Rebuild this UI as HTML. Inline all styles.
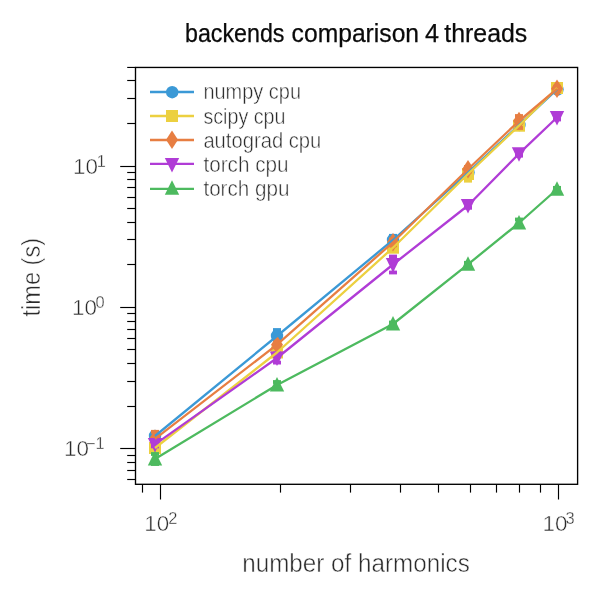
<!DOCTYPE html>
<html><head><meta charset="utf-8"><title>backends comparison 4 threads</title>
<style>html,body{margin:0;padding:0;background:#fff;}body{width:600px;height:600px;overflow:hidden;}svg{display:block;will-change:transform;}text{font-family:"Liberation Sans",sans-serif;}</style></head><body>
<svg width="600" height="600" viewBox="0 0 600 600">
<g>
<line x1="155" y1="433" x2="155" y2="439" stroke="#3b99d6" stroke-width="2.3"/>
<rect x="151.0" y="431.10" width="8" height="3.8" fill="#3b99d6"/>
<rect x="151.0" y="437.10" width="8" height="3.8" fill="#3b99d6"/>
<circle cx="155" cy="436" r="6.2" fill="#3b99d6"/>
<line x1="277" y1="330" x2="277" y2="342" stroke="#3b99d6" stroke-width="2.3"/>
<rect x="273.0" y="328.10" width="8" height="3.8" fill="#3b99d6"/>
<rect x="273.0" y="340.10" width="8" height="3.8" fill="#3b99d6"/>
<circle cx="277" cy="336" r="6.2" fill="#3b99d6"/>
<line x1="393" y1="235.8" x2="393" y2="244.2" stroke="#3b99d6" stroke-width="2.3"/>
<rect x="389.0" y="233.90" width="8" height="3.8" fill="#3b99d6"/>
<rect x="389.0" y="242.30" width="8" height="3.8" fill="#3b99d6"/>
<circle cx="393" cy="240" r="6.2" fill="#3b99d6"/>
<line x1="468" y1="170.5" x2="468" y2="174.5" stroke="#3b99d6" stroke-width="2.3"/>
<rect x="464.0" y="168.60" width="8" height="3.8" fill="#3b99d6"/>
<rect x="464.0" y="172.60" width="8" height="3.8" fill="#3b99d6"/>
<circle cx="468.5" cy="172.5" r="6.2" fill="#3b99d6"/>
<line x1="519" y1="123" x2="519" y2="127" stroke="#3b99d6" stroke-width="2.3"/>
<rect x="515.0" y="121.10" width="8" height="3.8" fill="#3b99d6"/>
<rect x="515.0" y="125.10" width="8" height="3.8" fill="#3b99d6"/>
<circle cx="519.5" cy="125" r="6.2" fill="#3b99d6"/>
<line x1="557" y1="87.5" x2="557" y2="91.5" stroke="#3b99d6" stroke-width="2.3"/>
<rect x="553.0" y="85.60" width="8" height="3.8" fill="#3b99d6"/>
<rect x="553.0" y="89.60" width="8" height="3.8" fill="#3b99d6"/>
<circle cx="557.5" cy="89.5" r="6.2" fill="#3b99d6"/>
<line x1="155" y1="445" x2="155" y2="451" stroke="#ecd040" stroke-width="2.3"/>
<rect x="151.0" y="443.10" width="8" height="3.8" fill="#ecd040"/>
<rect x="151.0" y="449.10" width="8" height="3.8" fill="#ecd040"/>
<rect x="149" y="442" width="12" height="12" fill="#ecd040"/>
<line x1="277" y1="349.5" x2="277" y2="355.5" stroke="#ecd040" stroke-width="2.3"/>
<rect x="273.0" y="347.60" width="8" height="3.8" fill="#ecd040"/>
<rect x="273.0" y="353.60" width="8" height="3.8" fill="#ecd040"/>
<rect x="271" y="346.5" width="12" height="12" fill="#ecd040"/>
<line x1="393" y1="244.7" x2="393" y2="250.7" stroke="#ecd040" stroke-width="2.3"/>
<rect x="389.0" y="242.80" width="8" height="3.8" fill="#ecd040"/>
<rect x="389.0" y="248.80" width="8" height="3.8" fill="#ecd040"/>
<rect x="387" y="241.7" width="12" height="12" fill="#ecd040"/>
<line x1="468" y1="167.3" x2="468" y2="180.7" stroke="#ecd040" stroke-width="2.3"/>
<rect x="464.0" y="165.40" width="8" height="3.8" fill="#ecd040"/>
<rect x="464.0" y="178.80" width="8" height="3.8" fill="#ecd040"/>
<rect x="462" y="168" width="12" height="12" fill="#ecd040"/>
<line x1="519" y1="122.7" x2="519" y2="128.7" stroke="#ecd040" stroke-width="2.3"/>
<rect x="515.0" y="120.80" width="8" height="3.8" fill="#ecd040"/>
<rect x="515.0" y="126.80" width="8" height="3.8" fill="#ecd040"/>
<rect x="513" y="119.7" width="12" height="12" fill="#ecd040"/>
<line x1="557" y1="86" x2="557" y2="90" stroke="#ecd040" stroke-width="2.3"/>
<rect x="553.0" y="84.10" width="8" height="3.8" fill="#ecd040"/>
<rect x="553.0" y="88.10" width="8" height="3.8" fill="#ecd040"/>
<rect x="551" y="82" width="12" height="12" fill="#ecd040"/>
<line x1="155" y1="431.8" x2="155" y2="445.8" stroke="#e77e42" stroke-width="2.3"/>
<rect x="151.0" y="429.90" width="8" height="3.8" fill="#e77e42"/>
<rect x="151.0" y="443.90" width="8" height="3.8" fill="#e77e42"/>
<polygon points="155,429.5 161,438.8 155,448.1 149,438.8" fill="#e77e42"/>
<line x1="277" y1="342.2" x2="277" y2="347.2" stroke="#e77e42" stroke-width="2.3"/>
<rect x="273.0" y="340.30" width="8" height="3.8" fill="#e77e42"/>
<rect x="273.0" y="345.30" width="8" height="3.8" fill="#e77e42"/>
<polygon points="277,335.4 283,344.7 277,354.0 271,344.7" fill="#e77e42"/>
<line x1="393" y1="239.3" x2="393" y2="245.3" stroke="#e77e42" stroke-width="2.3"/>
<rect x="389.0" y="237.40" width="8" height="3.8" fill="#e77e42"/>
<rect x="389.0" y="243.40" width="8" height="3.8" fill="#e77e42"/>
<polygon points="393,233.0 399,242.3 393,251.60000000000002 387,242.3" fill="#e77e42"/>
<line x1="468" y1="167.0" x2="468" y2="171.60000000000002" stroke="#e77e42" stroke-width="2.3"/>
<rect x="464.0" y="165.10" width="8" height="3.8" fill="#e77e42"/>
<rect x="464.0" y="169.70" width="8" height="3.8" fill="#e77e42"/>
<polygon points="468,160.0 474,169.3 468,178.60000000000002 462,169.3" fill="#e77e42"/>
<line x1="519" y1="116" x2="519" y2="128" stroke="#e77e42" stroke-width="2.3"/>
<rect x="515.0" y="114.10" width="8" height="3.8" fill="#e77e42"/>
<rect x="515.0" y="126.10" width="8" height="3.8" fill="#e77e42"/>
<polygon points="519,111.7 525,121 519,130.3 513,121" fill="#e77e42"/>
<line x1="557" y1="86.8" x2="557" y2="90.8" stroke="#e77e42" stroke-width="2.3"/>
<rect x="553.0" y="84.90" width="8" height="3.8" fill="#e77e42"/>
<rect x="553.0" y="88.90" width="8" height="3.8" fill="#e77e42"/>
<polygon points="557,79.5 563,88.8 557,98.1 551,88.8" fill="#e77e42"/>
<line x1="155" y1="442.4" x2="155" y2="446.4" stroke="#b03cd6" stroke-width="2.3"/>
<rect x="151.0" y="440.50" width="8" height="3.8" fill="#b03cd6"/>
<rect x="151.0" y="444.50" width="8" height="3.8" fill="#b03cd6"/>
<polygon points="147.8,437.9 162.2,437.9 155,452.4" fill="#b03cd6"/>
<line x1="277" y1="353.4" x2="277" y2="362.6" stroke="#b03cd6" stroke-width="2.3"/>
<rect x="273.0" y="351.50" width="8" height="3.8" fill="#b03cd6"/>
<rect x="273.0" y="360.70" width="8" height="3.8" fill="#b03cd6"/>
<polygon points="269.8,351.5 284.2,351.5 277,366" fill="#b03cd6"/>
<line x1="393" y1="256.5" x2="393" y2="272.5" stroke="#b03cd6" stroke-width="2.3"/>
<rect x="389.0" y="254.60" width="8" height="3.8" fill="#b03cd6"/>
<rect x="389.0" y="270.60" width="8" height="3.8" fill="#b03cd6"/>
<polygon points="385.8,258.0 400.2,258.0 393,272.5" fill="#b03cd6"/>
<line x1="468" y1="203.2" x2="468" y2="207.8" stroke="#b03cd6" stroke-width="2.3"/>
<rect x="464.0" y="201.30" width="8" height="3.8" fill="#b03cd6"/>
<rect x="464.0" y="205.90" width="8" height="3.8" fill="#b03cd6"/>
<polygon points="460.8,199.0 475.2,199.0 468,213.5" fill="#b03cd6"/>
<line x1="519" y1="151.7" x2="519" y2="155.7" stroke="#b03cd6" stroke-width="2.3"/>
<rect x="515.0" y="149.80" width="8" height="3.8" fill="#b03cd6"/>
<rect x="515.0" y="153.80" width="8" height="3.8" fill="#b03cd6"/>
<polygon points="511.8,147.2 526.2,147.2 519,161.7" fill="#b03cd6"/>
<line x1="557" y1="115.5" x2="557" y2="119.5" stroke="#b03cd6" stroke-width="2.3"/>
<rect x="553.0" y="113.60" width="8" height="3.8" fill="#b03cd6"/>
<rect x="553.0" y="117.60" width="8" height="3.8" fill="#b03cd6"/>
<polygon points="549.8,111.0 564.2,111.0 557,125.5" fill="#b03cd6"/>
<line x1="155" y1="454" x2="155" y2="464" stroke="#4dba5f" stroke-width="2.3"/>
<rect x="151.0" y="452.10" width="8" height="3.8" fill="#4dba5f"/>
<rect x="151.0" y="462.10" width="8" height="3.8" fill="#4dba5f"/>
<polygon points="147.8,465.5 162.2,465.5 155,451" fill="#4dba5f"/>
<line x1="277" y1="382" x2="277" y2="388" stroke="#4dba5f" stroke-width="2.3"/>
<rect x="273.0" y="380.10" width="8" height="3.8" fill="#4dba5f"/>
<rect x="273.0" y="386.10" width="8" height="3.8" fill="#4dba5f"/>
<polygon points="269.8,391.5 284.2,391.5 277,377" fill="#4dba5f"/>
<line x1="393" y1="322.5" x2="393" y2="325.5" stroke="#4dba5f" stroke-width="2.3"/>
<rect x="389.0" y="320.60" width="8" height="3.8" fill="#4dba5f"/>
<rect x="389.0" y="323.60" width="8" height="3.8" fill="#4dba5f"/>
<polygon points="385.8,330.5 400.2,330.5 393,316" fill="#4dba5f"/>
<line x1="468" y1="262.8" x2="468" y2="265.8" stroke="#4dba5f" stroke-width="2.3"/>
<rect x="464.0" y="260.90" width="8" height="3.8" fill="#4dba5f"/>
<rect x="464.0" y="263.90" width="8" height="3.8" fill="#4dba5f"/>
<polygon points="460.8,270.8 475.2,270.8 468,256.3" fill="#4dba5f"/>
<line x1="519" y1="219.5" x2="519" y2="226.5" stroke="#4dba5f" stroke-width="2.3"/>
<rect x="515.0" y="217.60" width="8" height="3.8" fill="#4dba5f"/>
<rect x="515.0" y="224.60" width="8" height="3.8" fill="#4dba5f"/>
<polygon points="511.8,229.5 526.2,229.5 519,215" fill="#4dba5f"/>
<line x1="557" y1="187.85" x2="557" y2="190.65" stroke="#4dba5f" stroke-width="2.3"/>
<rect x="553.0" y="185.95" width="8" height="3.8" fill="#4dba5f"/>
<rect x="553.0" y="188.75" width="8" height="3.8" fill="#4dba5f"/>
<polygon points="549.8,195.75 564.2,195.75 557,181.25" fill="#4dba5f"/>
</g>
<g fill="none" stroke-width="2.3" stroke-linejoin="round" stroke-linecap="butt">
<polyline points="155,436 277,336 393,240 468,172.5 519,125 557,89.5" stroke="#3b99d6"/>
<polyline points="155,448 277,352.5 393,247.7 468,174 519,125.7 557,88" stroke="#ecd040"/>
<polyline points="155,438.8 277,344.7 393,242.3 468,169.3 519,121 557,88.8" stroke="#e77e42"/>
<polyline points="155,444.4 277,358 393,264.5 468,205.5 519,153.7 557,117.5" stroke="#b03cd6"/>
<polyline points="155,459 277,385 393,324 468,264.3 519,223 557,189.25" stroke="#4dba5f"/>
</g>
<rect x="135.5" y="67.45" width="442.1" height="416.85" fill="none" stroke="#000" stroke-width="1.35"/>
<g stroke="#000" stroke-width="1.15">
<line x1="127.2" y1="479.50" x2="135.5" y2="479.50"/>
<line x1="127.2" y1="470.50" x2="135.5" y2="470.50"/>
<line x1="127.2" y1="462.50" x2="135.5" y2="462.50"/>
<line x1="127.2" y1="455.50" x2="135.5" y2="455.50"/>
<line x1="120.2" y1="448.50" x2="135.5" y2="448.50"/>
<line x1="127.2" y1="406.50" x2="135.5" y2="406.50"/>
<line x1="127.2" y1="381.50" x2="135.5" y2="381.50"/>
<line x1="127.2" y1="363.50" x2="135.5" y2="363.50"/>
<line x1="127.2" y1="349.50" x2="135.5" y2="349.50"/>
<line x1="127.2" y1="338.50" x2="135.5" y2="338.50"/>
<line x1="127.2" y1="329.50" x2="135.5" y2="329.50"/>
<line x1="127.2" y1="321.50" x2="135.5" y2="321.50"/>
<line x1="127.2" y1="313.50" x2="135.5" y2="313.50"/>
<line x1="120.2" y1="307.50" x2="135.5" y2="307.50"/>
<line x1="127.2" y1="264.50" x2="135.5" y2="264.50"/>
<line x1="127.2" y1="239.50" x2="135.5" y2="239.50"/>
<line x1="127.2" y1="222.50" x2="135.5" y2="222.50"/>
<line x1="127.2" y1="208.50" x2="135.5" y2="208.50"/>
<line x1="127.2" y1="197.50" x2="135.5" y2="197.50"/>
<line x1="127.2" y1="187.50" x2="135.5" y2="187.50"/>
<line x1="127.2" y1="179.50" x2="135.5" y2="179.50"/>
<line x1="127.2" y1="172.50" x2="135.5" y2="172.50"/>
<line x1="120.2" y1="166.50" x2="135.5" y2="166.50"/>
<line x1="127.2" y1="123.50" x2="135.5" y2="123.50"/>
<line x1="127.2" y1="98.50" x2="135.5" y2="98.50"/>
<line x1="127.2" y1="80.50" x2="135.5" y2="80.50"/>
<line x1="127.2" y1="67.45" x2="135.5" y2="67.45"/>
<line x1="142.50" y1="484.3" x2="142.50" y2="492.6"/>
<line x1="160.50" y1="484.3" x2="160.50" y2="499.5"/>
<line x1="280.50" y1="484.3" x2="280.50" y2="492.6"/>
<line x1="350.50" y1="484.3" x2="350.50" y2="492.6"/>
<line x1="400.50" y1="484.3" x2="400.50" y2="492.6"/>
<line x1="438.50" y1="484.3" x2="438.50" y2="492.6"/>
<line x1="470.50" y1="484.3" x2="470.50" y2="492.6"/>
<line x1="496.50" y1="484.3" x2="496.50" y2="492.6"/>
<line x1="519.50" y1="484.3" x2="519.50" y2="492.6"/>
<line x1="540.50" y1="484.3" x2="540.50" y2="492.6"/>
<line x1="558.50" y1="484.3" x2="558.50" y2="499.5"/>
</g>
<text x="98.0" y="174.2" text-anchor="end" font-size="22.4" fill="#2b2b2b" stroke="#fff" stroke-width="0.5">10</text><text x="105.8" y="167.2" text-anchor="end" font-size="16.4" fill="#2b2b2b" stroke="#fff" stroke-width="0.35">1</text>
<text x="97.0" y="315.2" text-anchor="end" font-size="22.4" fill="#2b2b2b" stroke="#fff" stroke-width="0.5">10</text><text x="104.6" y="308.2" text-anchor="end" font-size="16.4" fill="#2b2b2b" stroke="#fff" stroke-width="0.35">0</text>
<text x="89.0" y="456.2" text-anchor="end" font-size="22.4" fill="#2b2b2b" stroke="#fff" stroke-width="0.5">10</text><text x="104.6" y="449.2" text-anchor="end" font-size="16.4" fill="#2b2b2b" stroke="#fff" stroke-width="0.35">−1</text>
<text x="169.2" y="531" text-anchor="end" font-size="22.4" fill="#2b2b2b" stroke="#fff" stroke-width="0.5">10</text><text x="177.3" y="524.0" text-anchor="end" font-size="16.4" fill="#2b2b2b" stroke="#fff" stroke-width="0.35">2</text>
<text x="567.5" y="531" text-anchor="end" font-size="22.4" fill="#2b2b2b" stroke="#fff" stroke-width="0.5">10</text><text x="574.6" y="524.0" text-anchor="end" font-size="16.4" fill="#2b2b2b" stroke="#fff" stroke-width="0.35">3</text>
<text x="185.0" y="41.7" font-size="25" fill="#0a0a0a" stroke="#0a0a0a" stroke-width="0.25" textLength="99.5" lengthAdjust="spacingAndGlyphs">backends</text>
<text x="291.6" y="41.7" font-size="25" fill="#0a0a0a" stroke="#0a0a0a" stroke-width="0.25" textLength="127.5" lengthAdjust="spacingAndGlyphs">comparison</text>
<text x="425.0" y="41.7" font-size="25" fill="#0a0a0a" stroke="#0a0a0a" stroke-width="0.25" textLength="14.0" lengthAdjust="spacingAndGlyphs">4</text>
<text x="444.3" y="41.7" font-size="25" fill="#0a0a0a" stroke="#0a0a0a" stroke-width="0.25" textLength="83.0" lengthAdjust="spacingAndGlyphs">threads</text>
<text x="356" y="572.3" text-anchor="middle" font-size="25" fill="#2b2b2b" textLength="227.5" lengthAdjust="spacingAndGlyphs" stroke="#fff" stroke-width="0.5">number of harmonics</text>
<text transform="translate(40.2,277.2) rotate(-90)" text-anchor="middle" font-size="25" fill="#2b2b2b" textLength="78.5" lengthAdjust="spacingAndGlyphs" stroke="#fff" stroke-width="0.5">time (s)</text>
<line x1="150" y1="92" x2="194" y2="92" stroke="#3b99d6" stroke-width="2.3"/>
<circle cx="172.2" cy="92.2" r="6.2" fill="#3b99d6"/>
<text x="203.4" y="99.4" font-size="22" fill="#2b2b2b" textLength="97.60000000000001" lengthAdjust="spacingAndGlyphs" stroke="#fff" stroke-width="0.5">numpy cpu</text>
<line x1="150" y1="116" x2="194" y2="116" stroke="#ecd040" stroke-width="2.3"/>
<rect x="166" y="110" width="12" height="12" fill="#ecd040"/>
<text x="203.4" y="123.5" font-size="22" fill="#2b2b2b" textLength="82.10000000000001" lengthAdjust="spacingAndGlyphs" stroke="#fff" stroke-width="0.5">scipy cpu</text>
<line x1="150" y1="140" x2="194" y2="140" stroke="#e77e42" stroke-width="2.3"/>
<polygon points="172,130.5 178,139.8 172,149.10000000000002 166,139.8" fill="#e77e42"/>
<text x="203.4" y="147.6" font-size="22" fill="#2b2b2b" textLength="117.9" lengthAdjust="spacingAndGlyphs" stroke="#fff" stroke-width="0.5">autograd cpu</text>
<line x1="150" y1="163.9" x2="194" y2="163.9" stroke="#b03cd6" stroke-width="2.3"/>
<polygon points="164.8,158.0 179.2,158.0 172,172.5" fill="#b03cd6"/>
<text x="203.4" y="171.7" font-size="22" fill="#2b2b2b" textLength="85.10000000000001" lengthAdjust="spacingAndGlyphs" stroke="#fff" stroke-width="0.5">torch cpu</text>
<line x1="150" y1="188.8" x2="194" y2="188.8" stroke="#4dba5f" stroke-width="2.3"/>
<polygon points="164.8,194.7 179.2,194.7 172,180.2" fill="#4dba5f"/>
<text x="203.4" y="195.8" font-size="22" fill="#2b2b2b" textLength="86.10000000000001" lengthAdjust="spacingAndGlyphs" stroke="#fff" stroke-width="0.5">torch gpu</text>
</svg></body></html>
